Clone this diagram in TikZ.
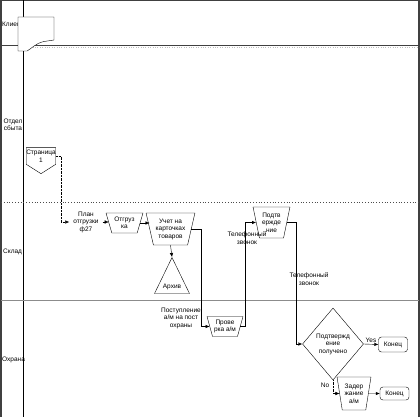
\documentclass[tikz,border=0pt]{standalone}
\usepackage{fontspec}
\setmainfont{Liberation Sans}
\usetikzlibrary{shapes.geometric, shapes.symbols, arrows.meta, calc}
\tikzset{
    every node/.style={font=\fontsize{6.5}{7.5}\selectfont, align=center,
        inner sep=0pt},
    frame/.style={draw=black!75, line width=1.2pt},
    manualop/.style={draw, fill=white, trapezium, shape border rotate=180,
        trapezium stretches=true},
    endbox/.style={draw, fill=white, rounded corners=3pt},
    flow/.style={-{Latex[length=4pt, width=3.5pt]}},
    lanename/.style={anchor=west},
}

\begin{document}
\begin{tikzpicture}[x=1pt, y=-1pt]
        \useasboundingbox (0,0) rectangle (420,417); % Page
        \draw[frame] (1,417) -- (1,0.6) -- (419,0.6) -- (419,417); % Border
        \draw[thin] (23,0) -- (23,417); % Title column
        \draw[frame, line width=1pt] (1,46) -- (419,46); % Клиент / Отдел сбыта
        \draw[gray!50, dotted] (23,47.6) -- (419,47.6);
        \draw[black!70, dotted, thick] (1,202.6) -- (419,202.6);
            % Отдел сбыта / Склад
        \draw[black!45, line width=1.6pt] (1,300.6) -- (419,300.6);
            % Склад / Охрана
        \node[lanename] (lclient) at (2,24) {Клиент}; % Lane names
        \node (lsales) at (13,125) {Отдел\\сбыта};
        \node[lanename] (lstore) at (3,252) {Склад};
        \node[lanename] (lguard) at (2,360) {Охрана};
        \draw[fill=white] (18,17) -- (54,17) -- (54,40) -- (44,41.5)
            .. controls (36,43) and (31,49) .. (27,51) -- (18,51) -- cycle;
            % Client document
        \node[draw, fill=white, signal, signal to=south,
            signal pointer angle=115, minimum width=28, minimum height=26]
            (stran) at (41,156) {Страница\\1}; % Off-page link
        \node[inner xsep=4pt] (plan) at (86,222) {План\\отгрузки\\ф27};
        \node[manualop, minimum width=37, minimum height=20,
            trapezium angle=69] (otgr) at (124.5,223) {Отгруз\\ка};
        \node[manualop, minimum width=49, minimum height=32,
            trapezium angle=73] (uchet) at (170.5,229)
            {Учет на\\карточках\\товаров};
        \node[draw, fill=white, isosceles triangle, shape border rotate=90,
            isosceles triangle stretches, minimum width=35, minimum height=36,
            anchor=apex] (archiv) at (172,257) {Архив};
        \node[manualop, minimum width=36, minimum height=20,
            trapezium angle=70] (prov) at (225,326.5) {Прове\\рка а/м};
        \node[manualop, minimum width=37, minimum height=31,
            trapezium angle=75.5] (podtv) at (271.5,222.5) {Подтв\\ержде\\ние};
        \node[draw, fill=white, diamond, minimum width=61, minimum height=72]
            (dia) at (333,344) {Подтвержд\\ение\\получено};
        \node[endbox, minimum width=29, minimum height=15] (kon1)
            at (393,344.5) {Конец};
        \node[manualop, minimum width=34, minimum height=33,
            trapezium angle=78] (zad) at (354,393.5) {Задер\\жание\\а/м};
        \node[endbox, minimum width=29, minimum height=13] (kon2)
            at (394.5,393.5) {Конец};
        \draw[flow, densely dotted] (stran.east) -- ++(5,0) |- (plan.west);
            % From the link
        \draw[flow] (plan.east) -- (plan.east -| otgr.west);
        \draw[flow] (otgr.east) -- (otgr.east -| uchet.west);
        \draw[flow] (uchet.south) -- (archiv.apex); % To the archive
        \draw[flow] (uchet.east) -- ++(10,0) |- (prov.west);
        \node (postup) at (181,318) {Поступление\\а/м на пост\\охраны};
        \draw[flow] (prov.east) -- ++(5,0) |- (podtv.west);
        \node (tel1) at (247,238) {Телефонный\\звонок};
        \draw[flow] (podtv.east) -- ++(9,0) |- (dia.west);
        \node (tel2) at (309,279) {Телефонный\\звонок};
        \draw[flow] (dia.east) -- (kon1.west) node[midway, above=1pt] {Yes};
        \draw[flow, densely dotted] (dia.south) |- (zad.west);
        \node (no) at (325,385) {No};
        \draw[flow] (zad.east) -- (kon2.west);
    \end{tikzpicture}
\end{document}
